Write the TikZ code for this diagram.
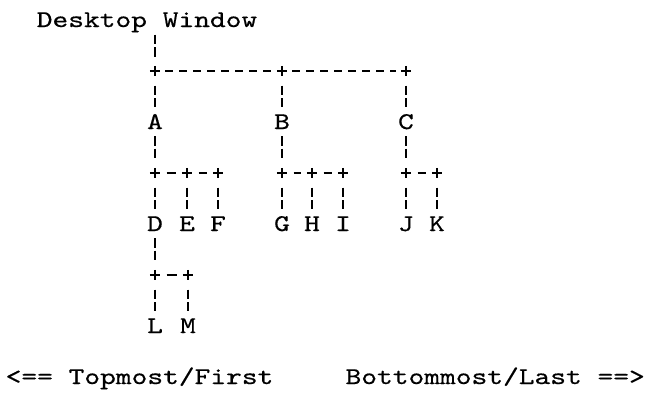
\documentclass[tikz,border=0pt]{standalone}
\usepackage{fontspec}
\newfontfamily\asc{lmmono10-regular.otf}[FakeStretch=1.25,FakeBold=0.5]
\begin{document}
\begin{tikzpicture}[x=1pt,y=-1pt,
  lbl/.style={font=\asc\fontsize{24}{24}\selectfont, inner sep=0pt, anchor=base},
  junc/.style={minimum size=10pt, inner sep=0pt},
  plus/.style={line width=1.7pt},
  vbar/.style={line width=1.6pt, shorten <=14.5pt, shorten >=14.5pt, dash pattern=on 9.5pt off 3pt on 9.5pt off 40pt},
  hline/.style={line width=1.7pt, shorten <=10pt, shorten >=10pt, dash pattern=on 8pt off 6pt},
  hshort/.style={line width=1.7pt, shorten <=11.5pt, shorten >=11.5pt}]
\useasboundingbox (0,0) rectangle (647,394);
% row 0
\node[lbl] (dw) at (147,27) {Desktop Window};
% row 2 junctions
\node[junc] (p0) at (155,71) {};
\node[junc] (p1) at (282,71) {};
\node[junc] (p2) at (406,71) {};
% row 4
\node[lbl] (A) at (155,129) {A};
\node[lbl] (B) at (282,129) {B};
\node[lbl] (C) at (406,129) {C};
% row 6 junctions
\node[junc] (a0) at (155,173) {};
\node[junc] (a1) at (187,173) {};
\node[junc] (a2) at (218,173) {};
\node[junc] (b0) at (282,173) {};
\node[junc] (b1) at (312,173) {};
\node[junc] (b2) at (343,173) {};
\node[junc] (c0) at (406,173) {};
\node[junc] (c1) at (437,173) {};
% row 8
\node[lbl] (D) at (155,231) {D};
\node[lbl] (E) at (187,231) {E};
\node[lbl] (F) at (218,231) {F};
\node[lbl] (G) at (282,231) {G};
\node[lbl] (H) at (312,231) {H};
\node[lbl] (I) at (343,231) {I};
\node[lbl] (J) at (406,231) {J};
\node[lbl] (K) at (437,231) {K};
% row 10 junctions
\node[junc] (d0) at (155,275) {};
\node[junc] (d1) at (188,275) {};
% row 12
\node[lbl] (L) at (155,333) {L};
\node[lbl] (M) at (188,333) {M};
% row 14
\node[lbl] (first) at (139.5,384) {<== Topmost/First};
\node[lbl, anchor=base east] (last) at (645,384) {Bottommost/Last ==>};
% plus marks
\foreach \n in {p0,p1,p2,a0,a1,a2,b0,b1,b2,c0,c1,d0,d1}
  \draw[plus] (\n.west) -- (\n.east) (\n.north) -- (\n.south);
% vertical connectors
\draw[vbar, shorten <=7.5pt] (dw.base -| p0.center) -- (p0.center);
\draw[vbar] (p0.center) -- (A.center);
\draw[vbar] (p1.center) -- (B.center);
\draw[vbar] (p2.center) -- (C.center);
\draw[vbar] (A.center) -- (a0.center);
\draw[vbar] (B.center) -- (b0.center);
\draw[vbar] (C.center) -- (c0.center);
\draw[vbar] (a0.center) -- (D.center);
\draw[vbar] (a1.center) -- (E.center);
\draw[vbar] (a2.center) -- (F.center);
\draw[vbar] (b0.center) -- (G.center);
\draw[vbar] (b1.center) -- (H.center);
\draw[vbar] (b2.center) -- (I.center);
\draw[vbar] (c0.center) -- (J.center);
\draw[vbar] (c1.center) -- (K.center);
\draw[vbar] (D.center) -- (d0.center);
\draw[vbar] (d0.center) -- (L.center);
\draw[vbar] (d1.center) -- (M.center);
% horizontal connectors
\draw[hline] (p0.center) -- (p1.center);
\draw[hline] (p1.center) -- (p2.center);
\draw[hshort] (a0.center) -- (a1.center);
\draw[hshort] (a1.center) -- (a2.center);
\draw[hshort] (b0.center) -- (b1.center);
\draw[hshort] (b1.center) -- (b2.center);
\draw[hshort] (c0.center) -- (c1.center);
\draw[hshort] (d0.center) -- (d1.center);
\end{tikzpicture}
\end{document}
